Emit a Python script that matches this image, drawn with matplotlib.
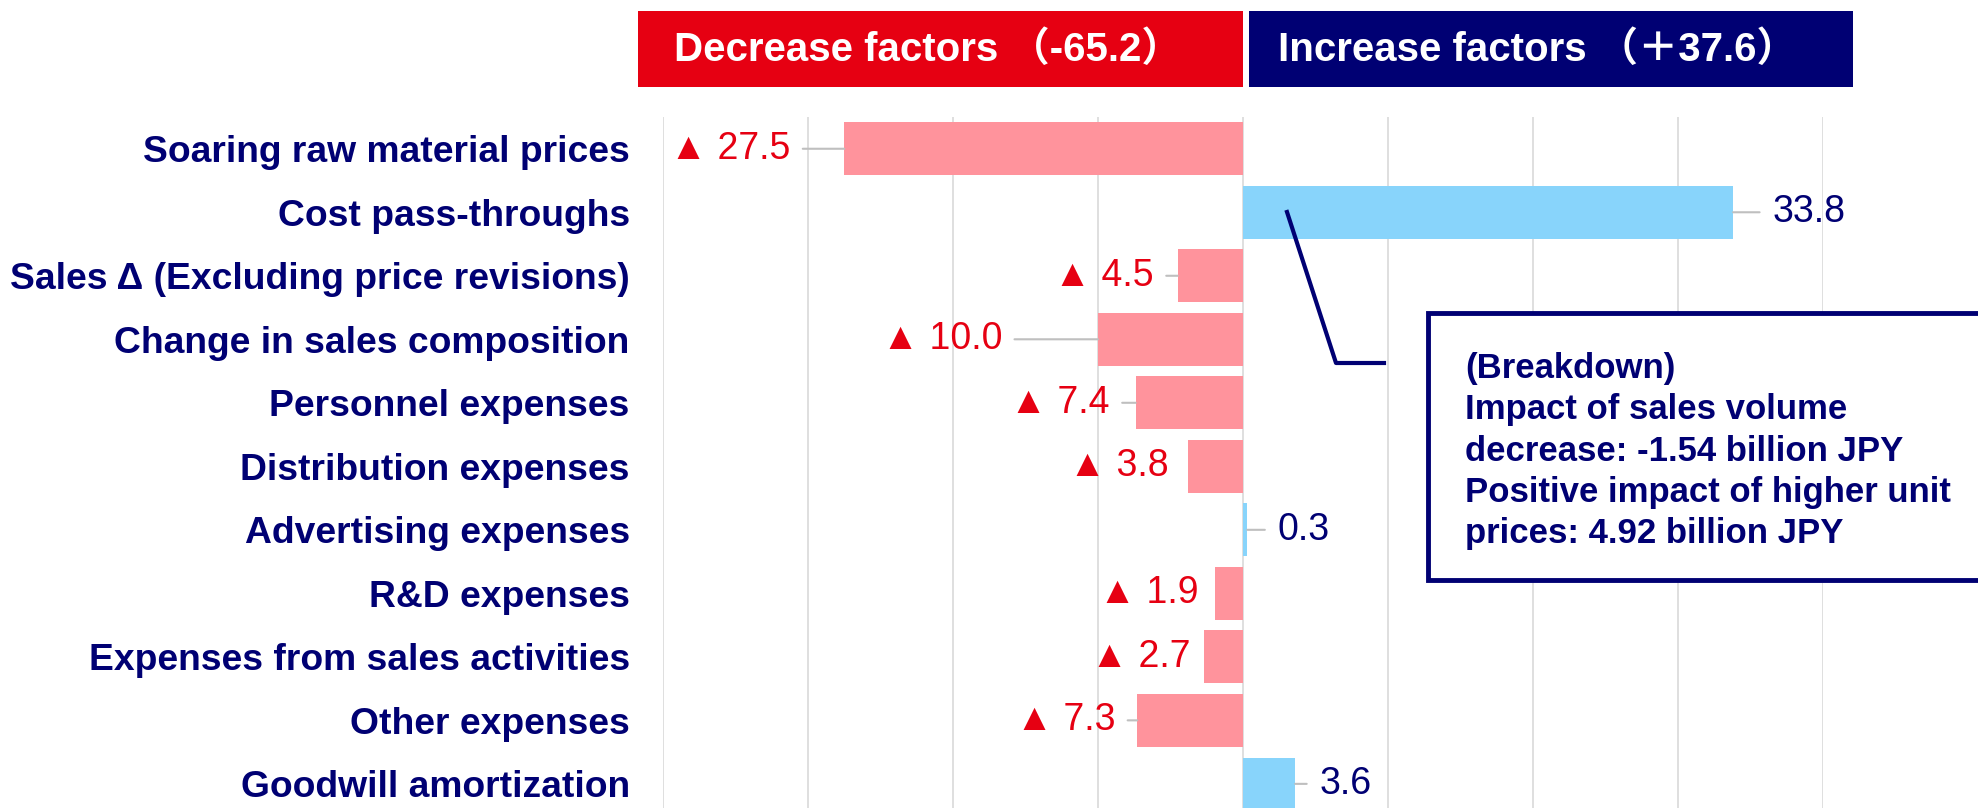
import matplotlib
matplotlib.use("Agg")
import matplotlib.pyplot as plt
from matplotlib.patches import Rectangle
from matplotlib.lines import Line2D

# ---- data ----
categories = [
    "Soaring raw material prices",
    "Cost pass-throughs",
    "Sales Δ (Excluding price revisions)",
    "Change in sales composition",
    "Personnel expenses",
    "Distribution expenses",
    "Advertising expenses",
    "R&D expenses",
    "Expenses from sales activities",
    "Other expenses",
    "Goodwill amortization",
]
values = [-27.5, 33.8, -4.5, -10.0, -7.4, -3.8, 0.3, -1.9, -2.7, -7.3, 3.6]
decrease_total = -65.2
increase_total = 37.6
header_texts = ["Decrease factors （{:.1f}）".format(decrease_total),
                "Increase factors （＋{:.1f}）".format(increase_total)]
breakdown_lines = [
    "(Breakdown)",
    "Impact of sales volume",
    "decrease: -1.54 billion JPY",
    "Positive impact of higher unit",
    "prices: 4.92 billion JPY",
]

# ---- style ----
NAVY = "#000073"
RED = "#E60012"
PINK = "#FF939C"
LBLUE = "#88D4FB"
GRID = "#D9D9D9"
LEADER = "#BFBFBF"
FONT = ["Liberation Sans", "Noto Sans CJK JP", "DejaVu Sans"]
plt.rcParams["font.family"] = FONT

# label gap (pixels) between bar end and label, as placed in the original
label_gaps = [54, 39, 24, 96, 26, 19, 30, 17, 13, 22, 24]

W, H = 1978, 808
fig = plt.figure(figsize=(W / 100, H / 100), dpi=100)

def fx(x):
    return x / W

def fy(y):
    return 1 - y / H

ax_left, ax_right, ax_top, ax_bot = 663, 1823, 117, 808
ax = fig.add_axes([fx(ax_left), fy(ax_bot), (ax_right - ax_left) / W, (ax_bot - ax_top) / H])

n = len(categories)
ypos = list(range(n))
colors = [PINK if v < 0 else LBLUE for v in values]
ax.barh(ypos, values, height=0.83, color=colors, zorder=2)

ax.set_xlim(-40, 40)
ax.set_ylim(10.38, -0.5)
ax.set_xticks(range(-40, 41, 10))
ax.set_xticklabels([])
ax.tick_params(axis="x", length=0)
ax.grid(axis="x", color=GRID, lw=1.2)
ax.set_axisbelow(True)
for s in ax.spines.values():
    s.set_visible(False)
ax.set_yticks(ypos)
ax.set_yticklabels(categories, fontsize=26.8, fontweight="bold", color=NAVY)
ax.tick_params(axis="y", length=0, pad=24)

for i, (v, gap) in enumerate(zip(values, label_gaps)):
    if v < 0:
        txt = "▲ {:.1f}".format(abs(v))
        col, ha, dx = RED, "right", -gap
    else:
        txt = "{:.1f}".format(v)
        col, ha, dx = NAVY, "left", gap
    kw = {}
    if gap > 20:
        kw["arrowprops"] = dict(arrowstyle="-", color=LEADER, lw=1.5,
                                shrinkA=7, shrinkB=0)
    ax.annotate(txt, xy=(v, i), xytext=(dx, 0), textcoords="offset pixels",
                ha=ha, va="center", fontsize=27, color=col, zorder=3, **kw)

# ---- header boxes ----
fig.add_artist(Rectangle((fx(638), fy(87)), (1243 - 638) / W, (87 - 11) / H,
                         transform=fig.transFigure, facecolor=RED, edgecolor="none"))
fig.add_artist(Rectangle((fx(1249), fy(87)), (1853 - 1249) / W, (87 - 11) / H,
                         transform=fig.transFigure, facecolor=NAVY, edgecolor="none"))
fig.text(fx(674), fy(50), header_texts[0], color="white", fontsize=29,
         fontweight="bold", ha="left", va="center")
fig.text(fx(1278), fy(50), header_texts[1], color="white", fontsize=29,
         fontweight="bold", ha="left", va="center")

# ---- breakdown callout ----
fig.add_artist(Rectangle((fx(1428), fy(580)), (2000 - 1428) / W, (580 - 313) / H,
                         transform=fig.transFigure, facecolor="white",
                         edgecolor=NAVY, lw=3.5, zorder=5))
fig.add_artist(Line2D([fx(1287), fx(1336), fx(1384)], [fy(212), fy(363), fy(363)],
                      transform=fig.transFigure, color=NAVY, lw=3, zorder=6))
for k, line in enumerate(breakdown_lines):
    fig.text(fx(1465), fy(378 + 41.3 * k), line, color=NAVY, fontsize=25,
             fontweight="bold", ha="left", va="baseline", zorder=7)

fig.savefig("out.png", dpi=100, facecolor="white")
